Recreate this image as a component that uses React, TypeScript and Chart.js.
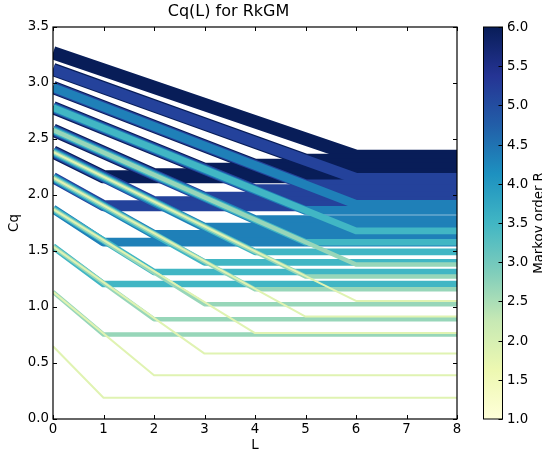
import React, { useEffect, useRef } from 'react';
import { Chart, registerables } from 'chart.js';

Chart.register(...registerables);

const FONT = "'DejaVu Sans', 'Noto Sans', sans-serif";

// Markov order R (colour) and the length L at which each curve saturates
const markovOrders = [1, 2, 3, 4, 5, 6];
const saturationL = [1, 2, 3, 4, 5, 6];
const lMin = 0;
const lMax = 8;

// Cq at L = 0, one row per Markov order, one entry per saturation length
const cqStartR1 = [0.65, 1.135, 1.54, 1.875, 2.155, 2.385];
const cqStartR2 = [1.135, 1.54, 1.875, 2.155, 2.385, 2.58];
const cqStartR3 = [1.54, 1.875, 2.155, 2.385, 2.58, 2.78];
const cqStartR4 = [1.875, 2.155, 2.385, 2.58, 2.78, 2.96];
const cqStartR5 = [2.155, 2.385, 2.58, 2.78, 2.96, 3.12];
const cqStartR6 = [2.385, 2.58, 2.78, 2.96, 3.12, 3.27];

// Saturated Cq (value from the saturation length up to L = 8)
const cqFlatR1 = [0.19, 0.39, 0.584, 0.767, 0.915, 1.054];
const cqFlatR2 = [0.754, 0.89, 1.025, 1.158, 1.272, 1.38];
const cqFlatR3 = [1.205, 1.312, 1.398, 1.492, 1.578, 1.68];
const cqFlatR4 = [1.58, 1.648, 1.712, 1.78, 1.862, 1.916];
const cqFlatR5 = [1.905, 1.94, 1.98, 2.046, 2.09, 2.148];
const cqFlatR6 = [2.163, 2.18, 2.23, 2.264, 2.31, 2.346];

const cqStart = [cqStartR1, cqStartR2, cqStartR3, cqStartR4, cqStartR5, cqStartR6];
const cqFlat = [cqFlatR1, cqFlatR2, cqFlatR3, cqFlatR4, cqFlatR5, cqFlatR6];

const lineColors = [
  'rgb(224,243,178)',
  'rgb(151,214,185)',
  'rgb(65,182,196)',
  'rgb(31,128,184)',
  'rgb(36,66,155)',
  'rgb(8,29,88)',
];
const lineWidths = [2, 4.4, 6.6, 8.8, 11, 13.2];

const colorbarStops = ['#ffffd9', '#edf8b1', '#c7e9b4', '#7fcdbb', '#41b6c4', '#1d91c0', '#225ea8', '#253494', '#081d58'];
const colorbarTicks = [1.0, 1.5, 2.0, 2.5, 3.0, 3.5, 4.0, 4.5, 5.0, 5.5, 6.0];
const colorbarMin = 1;
const colorbarMax = 6;

const datasets: any[] = [];
markovOrders.forEach((R, ri) => {
  saturationL.forEach((k, ki) => {
    datasets.push({
      label: `R=${R}, k=${k}`,
      data: [
        { x: lMin, y: cqStart[ri][ki] },
        { x: k, y: cqFlat[ri][ki] },
        { x: lMax, y: cqFlat[ri][ki] },
      ],
      borderColor: lineColors[ri],
      backgroundColor: lineColors[ri],
      borderWidth: lineWidths[ri],
      pointRadius: 0,
      tension: 0,
      fill: false,
      borderJoinStyle: 'round',
      borderCapStyle: 'butt',
      order: R,
      clip: 0,
    });
  });
});

const mplPlugin = {
  id: 'mplFrame',
  afterDatasetsDraw(chart: any) {
    const { ctx, chartArea: a, scales } = chart;
    const xs = scales.x;
    const ys = scales.y;
    ctx.save();
    ctx.strokeStyle = '#000';
    ctx.lineWidth = 1;
    ctx.beginPath();
    const tl = 4;
    xs.ticks.forEach((t: any) => {
      const px = Math.round(xs.getPixelForValue(t.value)) + 0.5;
      ctx.moveTo(px, a.bottom);
      ctx.lineTo(px, a.bottom - tl);
      ctx.moveTo(px, a.top);
      ctx.lineTo(px, a.top + tl);
    });
    ys.ticks.forEach((t: any) => {
      const py = Math.round(ys.getPixelForValue(t.value)) + 0.5;
      ctx.moveTo(a.left, py);
      ctx.lineTo(a.left + tl, py);
      ctx.moveTo(a.right, py);
      ctx.lineTo(a.right - tl, py);
    });
    ctx.stroke();
    ctx.lineWidth = 1.2;
    ctx.strokeRect(a.left, a.top, a.right - a.left, a.bottom - a.top);

    // colour bar
    const cbLeft = 483.5;
    const cbRight = 502.5;
    const top = a.top;
    const bottom = a.bottom;
    const grad = ctx.createLinearGradient(0, bottom, 0, top);
    colorbarStops.forEach((c, i) => grad.addColorStop(i / (colorbarStops.length - 1), c));
    ctx.fillStyle = grad;
    ctx.fillRect(cbLeft, top, cbRight - cbLeft, bottom - top);
    ctx.lineWidth = 1;
    ctx.strokeStyle = '#000';
    ctx.strokeRect(cbLeft, top, cbRight - cbLeft, bottom - top);
    ctx.beginPath();
    ctx.fillStyle = '#000';
    ctx.font = `13.33px ${FONT}`;
    ctx.textAlign = 'left';
    ctx.textBaseline = 'middle';
    colorbarTicks.forEach((v) => {
      const py = Math.round(bottom - ((v - colorbarMin) / (colorbarMax - colorbarMin)) * (bottom - top)) + 0.5;
      ctx.moveTo(cbRight - 4, py);
      ctx.lineTo(cbRight, py);
      ctx.fillText(v.toFixed(1), 507, py);
    });
    ctx.stroke();

    ctx.translate(542.5, (top + bottom) / 2);
    ctx.rotate(-Math.PI / 2);
    ctx.textAlign = 'center';
    ctx.textBaseline = 'alphabetic';
    ctx.fillText('Markov order R', 0, 0);
    ctx.restore();
  },
};

export default function App() {
  const ref = useRef<HTMLCanvasElement>(null);
  useEffect(() => {
    const canvas = ref.current;
    if (!canvas) return;
    const chart = new Chart(canvas, {
      type: 'line',
      data: { datasets },
      options: {
        animation: false,
        responsive: false,
        devicePixelRatio: 1,
        color: '#000',
        layout: { padding: { left: 0, right: 85, top: 0, bottom: 0 } },
        plugins: {
          legend: { display: false },
          tooltip: { enabled: false },
          title: {
            display: true,
            text: 'Cq(L) for RkGM',
            color: '#000',
            font: { family: FONT, size: 16, weight: 'normal' },
            padding: { top: 2, bottom: 5.8 },
          },
        },
        scales: {
          x: {
            type: 'linear',
            min: lMin,
            max: lMax,
            afterFit: (s: any) => { s.height = 35; },
            grid: { display: false, drawTicks: false },
            border: { display: false },
            ticks: {
              stepSize: 1,
              autoSkip: false,
              maxRotation: 0,
              padding: 2.5,
              color: '#000',
              font: { family: FONT, size: 13.33 },
              callback: (v: any) => String(v),
            },
            title: {
              display: true,
              text: 'L',
              color: '#000',
              font: { family: FONT, size: 13.33 },
              padding: { top: 0, bottom: 0 },
            },
          },
          y: {
            type: 'linear',
            min: 0,
            max: 3.5,
            afterFit: (s: any) => { s.width = 53; },
            grid: { display: false, drawTicks: false },
            border: { display: false },
            ticks: {
              stepSize: 0.5,
              autoSkip: false,
              padding: 4,
              color: '#000',
              font: { family: FONT, size: 13.33 },
              callback: (v: any) => Number(v).toFixed(1),
            },
            title: {
              display: true,
              text: 'Cq',
              color: '#000',
              font: { family: FONT, size: 13.33 },
              padding: { top: 7, bottom: 0 },
            },
          },
        },
      },
      plugins: [mplPlugin],
    } as any);
    return () => chart.destroy();
  }, []);
  return (
    <div style={{ position: 'fixed', left: 0, top: 0, width: 542, height: 454, background: '#fff' }}>
      <canvas ref={ref} width={542} height={454} style={{ display: 'block', width: 542, height: 454 }} />
    </div>
  );
}
